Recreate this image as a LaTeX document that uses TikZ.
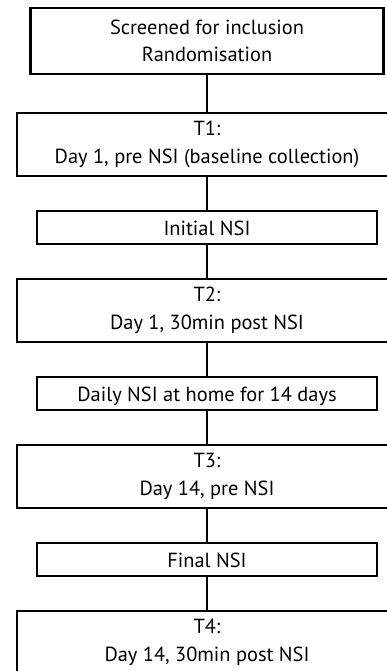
\documentclass[tikz,border=0pt]{standalone}
\usepackage{fontspec}
\setmainfont{PT Sans}
\usetikzlibrary{positioning}
\tikzset{
    top_node/.style={rectangle, minimum width=353pt, minimum height=66pt, text centered, align=center, draw=black, line width=2.2pt, outer sep=0pt, execute at begin node={\rule{0pt}{17pt}}},
    big_node/.style={rectangle, minimum width=380pt, minimum height=63pt, text centered, align=center, draw=black, line width=2.2pt, outer sep=0pt, execute at begin node={\rule{0pt}{21pt}}},
    small_node/.style={rectangle, minimum width=340pt, minimum height=33pt, text centered, align=center, draw=black, line width=2.2pt, outer sep=0pt, text height=16pt, text depth=0pt},
    line/.style={line width=2pt},
}

\begin{document}
\begin{tikzpicture}[node distance=35pt, font=\fontsize{20.4}{27.5}\selectfont]
            \clip (0,0) rectangle (387pt,-671pt);
            %%%%%%%%%%%%%%%%%
            % INCLUSION     %
            %%%%%%%%%%%%%%%%%
            \node (screened) [top_node] at (207pt,-41pt)
                    {Screened for inclusion \\ Randomisation};

            %%%%%%%%%%%%%%%%%
            % DAY 1         %
            %%%%%%%%%%%%%%%%%
            \node (t_one) [big_node, below = 39pt of screened]
                    {T1: \\ Day 1, pre NSI (baseline collection)};
            \node (nsi_initial) [small_node, below = of t_one]
                    {Initial NSI};
            \node (t_two) [big_node, below = of nsi_initial]
                    {T2: \\ Day 1, 30min post NSI};

            %%%%%%%%%%%%%%%%%
            % DAY 2 TO 14   %
            %%%%%%%%%%%%%%%%%
            \node (nsi_daily) [small_node, below = of t_two]
                    {Daily NSI at home for 14 days};
            \node (t_three) [big_node, below = of nsi_daily]
                    {T3: \\ Day 14, pre NSI};
            \node (nsi_final) [small_node, below = of t_three]
                    {Final NSI};
            \node (t_four) [big_node, below = of nsi_final]
                    {T4: \\ Day 14, 30min post NSI};

            \draw [line] (screened) -- (t_one);
            \draw [line] (t_one) -- (nsi_initial);
            \draw [line] (nsi_initial) -- (t_two);
            \draw [line] (t_two) -- (nsi_daily);
            \draw [line] (nsi_daily) -- (t_three);
            \draw [line] (t_three) -- (nsi_final);
            \draw [line] (nsi_final) -- (t_four);
      \end{tikzpicture}
\end{document}
